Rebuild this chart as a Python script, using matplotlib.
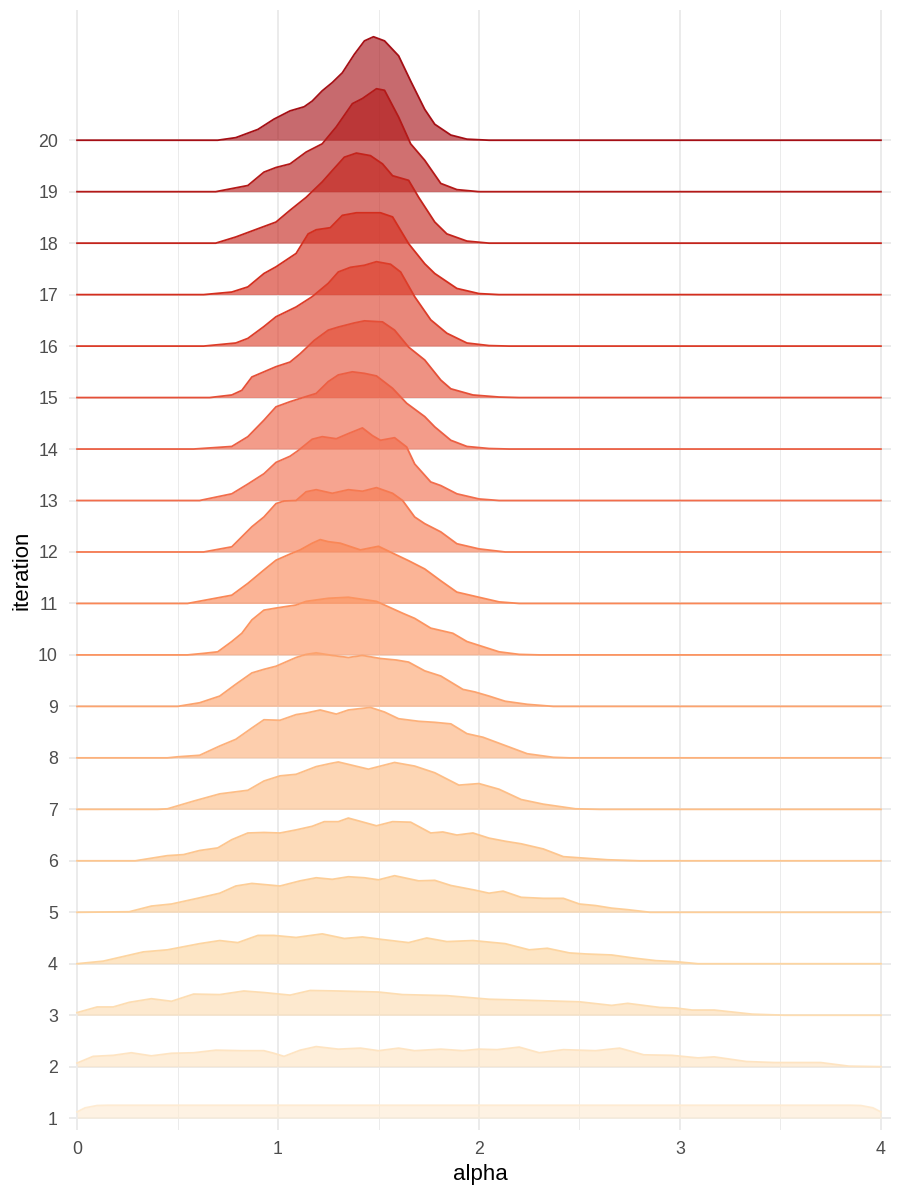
import numpy as np
import matplotlib
matplotlib.use("Agg")
import matplotlib.pyplot as plt
from matplotlib.colors import LinearSegmentedColormap

plt.rcParams["font.family"] = ["Liberation Sans", "DejaVu Sans"]

# ------------------------------------------------------------
# Data : ridge outlines, (alpha, height in row units)
# ------------------------------------------------------------
iterations = list(range(1, 21))

ridge_1 = [(0, 0.12), (0.04, 0.2), (0.1, 0.245), (0.15, 0.25), (3.85, 0.25),
           (3.9, 0.245), (3.96, 0.2), (4.0, 0.12)]
ridge_2 = [(0, 0.07), (0.08, 0.2), (0.18, 0.22), (0.27, 0.27), (0.37, 0.21),
           (0.47, 0.26), (0.58, 0.27), (0.69, 0.32), (0.82, 0.31), (0.93, 0.31),
           (0.98, 0.26), (1.03, 0.2), (1.11, 0.32), (1.19, 0.39), (1.30, 0.34),
           (1.41, 0.36), (1.50, 0.31), (1.60, 0.36), (1.68, 0.31), (1.81, 0.34),
           (1.92, 0.31), (2.0, 0.34), (2.09, 0.33), (2.2, 0.38), (2.30, 0.27),
           (2.42, 0.33), (2.58, 0.31), (2.70, 0.36), (2.82, 0.23), (2.96, 0.22),
           (3.09, 0.17), (3.17, 0.19), (3.33, 0.1), (3.47, 0.08), (3.70, 0.08),
           (3.84, 0.01), (4.0, 0)]
ridge_3 = [(0, 0.05), (0.1, 0.16), (0.18, 0.16), (0.26, 0.25), (0.37, 0.32),
           (0.47, 0.27), (0.58, 0.41), (0.71, 0.40), (0.83, 0.47), (0.93, 0.44),
           (1.06, 0.39), (1.16, 0.48), (1.30, 0.47), (1.50, 0.45), (1.62, 0.4),
           (1.84, 0.38), (2.05, 0.31), (2.24, 0.29), (2.50, 0.26), (2.66, 0.19),
           (2.74, 0.23), (2.9, 0.15), (2.98, 0.14), (3.06, 0.1), (3.17, 0.1),
           (3.36, 0.02), (3.52, 0), (4, 0)]
ridge_4 = [(0, 0), (0.13, 0.05), (0.23, 0.14), (0.33, 0.23), (0.45, 0.27),
           (0.61, 0.39), (0.71, 0.45), (0.80, 0.41), (0.90, 0.55), (0.98, 0.55),
           (1.09, 0.51), (1.22, 0.58), (1.33, 0.49), (1.42, 0.52), (1.52, 0.47),
           (1.65, 0.41), (1.74, 0.5), (1.84, 0.43), (1.97, 0.45), (2.13, 0.39),
           (2.25, 0.27), (2.34, 0.3), (2.45, 0.21), (2.53, 0.19), (2.66, 0.17),
           (2.77, 0.11), (2.88, 0.06), (2.98, 0.04), (3.09, 0), (4, 0)]
ridge_5 = [(0, 0), (0.26, 0.01), (0.37, 0.12), (0.47, 0.16), (0.61, 0.28),
           (0.71, 0.37), (0.79, 0.51), (0.87, 0.56), (1.01, 0.51), (1.11, 0.61),
           (1.19, 0.67), (1.27, 0.64), (1.35, 0.69), (1.43, 0.67), (1.50, 0.63),
           (1.58, 0.71), (1.70, 0.61), (1.78, 0.62), (1.86, 0.52), (1.98, 0.43),
           (2.05, 0.37), (2.12, 0.41), (2.21, 0.29), (2.32, 0.27), (2.42, 0.27),
           (2.50, 0.16), (2.58, 0.13), (2.66, 0.08), (2.74, 0.05), (2.85, 0),
           (4, 0)]
ridge_6 = [(0, 0), (0.29, 0), (0.45, 0.1), (0.53, 0.12), (0.61, 0.2),
           (0.70, 0.25), (0.77, 0.41), (0.85, 0.54), (0.93, 0.55), (1.01, 0.54),
           (1.09, 0.6), (1.17, 0.67), (1.23, 0.76), (1.30, 0.76), (1.35, 0.83),
           (1.49, 0.68), (1.57, 0.76), (1.66, 0.75), (1.76, 0.54), (1.82, 0.56),
           (1.89, 0.5), (1.97, 0.54), (2.05, 0.44), (2.13, 0.38), (2.21, 0.33),
           (2.32, 0.23), (2.42, 0.08), (2.53, 0.05), (2.64, 0.02), (2.8, 0),
           (4, 0)]
ridge_7 = [(0, 0), (0.4, 0), (0.45, 0.01), (0.58, 0.16), (0.71, 0.3),
           (0.85, 0.37), (0.93, 0.55), (1.01, 0.65), (1.09, 0.68), (1.19, 0.83),
           (1.26, 0.89), (1.30, 0.92), (1.45, 0.78), (1.58, 0.91), (1.68, 0.84),
           (1.78, 0.71), (1.90, 0.47), (2.0, 0.5), (2.1, 0.39), (2.21, 0.19),
           (2.32, 0.1), (2.48, 0.01), (2.6, 0), (4, 0)]
ridge_8 = [(0, 0), (0.45, 0), (0.5, 0.02), (0.61, 0.05), (0.71, 0.23),
           (0.79, 0.36), (0.87, 0.58), (0.93, 0.74), (1.01, 0.73), (1.09, 0.84),
           (1.14, 0.87), (1.21, 0.93), (1.29, 0.85), (1.35, 0.93), (1.46, 0.98),
           (1.53, 0.89), (1.60, 0.76), (1.70, 0.71), (1.78, 0.69), (1.86, 0.66),
           (1.94, 0.47), (2.02, 0.4), (2.13, 0.24), (2.24, 0.08), (2.37, 0.01),
           (2.45, 0), (4, 0)]
ridge_9 = [(0, 0), (0.5, 0), (0.61, 0.07), (0.71, 0.2), (0.79, 0.43),
           (0.87, 0.65), (0.93, 0.72), (0.99, 0.78), (1.09, 0.95), (1.14, 1.01),
           (1.19, 1.04), (1.27, 0.99), (1.35, 0.95), (1.42, 0.99), (1.51, 0.93),
           (1.59, 0.9), (1.65, 0.86), (1.73, 0.69), (1.81, 0.59), (1.92, 0.33),
           (1.98, 0.28), (2.05, 0.2), (2.13, 0.1), (2.24, 0.04), (2.37, 0),
           (4, 0)]
ridge_10 = [(0, 0), (0.55, 0), (0.63, 0.03), (0.70, 0.06), (0.77, 0.26),
            (0.82, 0.42), (0.87, 0.68), (0.93, 0.87), (0.99, 0.91), (1.09, 0.97),
            (1.14, 1.04), (1.25, 1.10), (1.35, 1.12), (1.49, 1.04), (1.62, 0.81),
            (1.68, 0.71), (1.76, 0.52), (1.87, 0.42), (1.94, 0.26), (2.02, 0.16),
            (2.1, 0.06), (2.2, 0.01), (2.3, 0), (4, 0)]
ridge_11 = [(0, 0), (0.55, 0), (0.77, 0.16), (0.85, 0.39), (0.93, 0.65),
            (0.99, 0.84), (1.06, 0.96), (1.11, 1.04), (1.17, 1.17), (1.21, 1.24),
            (1.25, 1.20), (1.31, 1.17), (1.41, 1.04), (1.50, 1.11), (1.58, 0.96),
            (1.65, 0.83), (1.73, 0.67), (1.81, 0.44), (1.89, 0.22), (2.0, 0.12),
            (2.1, 0.03), (2.2, 0), (4, 0)]
ridge_12 = [(0, 0), (0.63, 0), (0.77, 0.1), (0.87, 0.49), (0.93, 0.68),
            (0.99, 0.94), (1.03, 0.99), (1.09, 1.0), (1.14, 1.17), (1.19, 1.21),
            (1.27, 1.14), (1.35, 1.21), (1.42, 1.18), (1.49, 1.25), (1.57, 1.14),
            (1.62, 1.0), (1.68, 0.68), (1.73, 0.55), (1.81, 0.39), (1.89, 0.16),
            (2.0, 0.06), (2.13, 0), (4, 0)]
ridge_13 = [(0, 0), (0.61, 0), (0.77, 0.13), (0.85, 0.32), (0.93, 0.52),
            (0.99, 0.74), (1.06, 0.86), (1.10, 0.97), (1.17, 1.19), (1.22, 1.24),
            (1.29, 1.20), (1.35, 1.30), (1.42, 1.41), (1.47, 1.26), (1.51, 1.17),
            (1.58, 1.22), (1.64, 1.04), (1.68, 0.71), (1.76, 0.36), (1.81, 0.29),
            (1.89, 0.13), (2.0, 0.03), (2.1, 0), (4, 0)]
ridge_14 = [(0, 0), (0.58, 0), (0.77, 0.05), (0.85, 0.24), (0.93, 0.56),
            (0.99, 0.82), (1.06, 0.92), (1.14, 1.02), (1.19, 1.08), (1.25, 1.31),
            (1.30, 1.44), (1.37, 1.50), (1.43, 1.47), (1.49, 1.42), (1.57, 1.18),
            (1.64, 0.89), (1.73, 0.63), (1.78, 0.43), (1.86, 0.17), (1.94, 0.05),
            (2.05, 0.01), (2.15, 0), (4, 0)]
ridge_15 = [(0, 0), (0.66, 0), (0.77, 0.05), (0.82, 0.14), (0.87, 0.40),
            (0.93, 0.50), (0.99, 0.60), (1.06, 0.69), (1.11, 0.85), (1.18, 1.11),
            (1.25, 1.31), (1.30, 1.37), (1.38, 1.45), (1.43, 1.49), (1.52, 1.47),
            (1.58, 1.31), (1.65, 0.98), (1.73, 0.73), (1.81, 0.34), (1.86, 0.17),
            (1.97, 0.05), (2.1, 0.01), (2.2, 0), (4, 0)]
ridge_16 = [(0, 0), (0.63, 0), (0.79, 0.06), (0.85, 0.15), (0.93, 0.38),
            (0.99, 0.57), (1.09, 0.76), (1.17, 0.96), (1.25, 1.22), (1.30, 1.44),
            (1.36, 1.53), (1.43, 1.57), (1.49, 1.64), (1.56, 1.59), (1.61, 1.44),
            (1.68, 0.96), (1.76, 0.51), (1.84, 0.25), (1.94, 0.06), (2.05, 0.01),
            (2.15, 0), (4, 0)]
ridge_17 = [(0, 0), (0.63, 0), (0.77, 0.05), (0.85, 0.15), (0.93, 0.41),
            (0.99, 0.54), (1.09, 0.80), (1.15, 1.18), (1.19, 1.26), (1.26, 1.30),
            (1.32, 1.54), (1.39, 1.59), (1.51, 1.59), (1.57, 1.51), (1.65, 0.99),
            (1.73, 0.60), (1.78, 0.41), (1.89, 0.12), (2.0, 0.02), (2.1, 0),
            (4, 0)]
ridge_18 = [(0, 0), (0.69, 0), (0.79, 0.12), (0.90, 0.28), (0.99, 0.41),
            (1.06, 0.64), (1.14, 0.89), (1.22, 1.19), (1.27, 1.41), (1.33, 1.67),
            (1.39, 1.75), (1.46, 1.70), (1.52, 1.54), (1.57, 1.31), (1.65, 1.22),
            (1.70, 0.89), (1.78, 0.41), (1.84, 0.18), (1.94, 0.04), (2.05, 0),
            (4, 0)]
ridge_19 = [(0, 0), (0.69, 0), (0.77, 0.06), (0.85, 0.12), (0.93, 0.38),
            (0.99, 0.47), (1.06, 0.54), (1.14, 0.77), (1.22, 0.93), (1.29, 1.26),
            (1.37, 1.71), (1.42, 1.81), (1.49, 2.0), (1.53, 1.97), (1.60, 1.45),
            (1.66, 0.93), (1.73, 0.61), (1.81, 0.16), (1.89, 0.04), (2.0, 0),
            (4, 0)]
ridge_20 = [(0, 0), (0.70, 0), (0.79, 0.05), (0.90, 0.21), (0.98, 0.41),
            (1.06, 0.57), (1.13, 0.65), (1.17, 0.76), (1.22, 0.96), (1.27, 1.12),
            (1.32, 1.31), (1.38, 1.67), (1.43, 1.93), (1.475, 2.01), (1.53, 1.93),
            (1.60, 1.64), (1.66, 1.15), (1.73, 0.60), (1.78, 0.31), (1.86, 0.10),
            (1.94, 0.02), (2.05, 0), (4, 0)]

ridges = [ridge_1, ridge_2, ridge_3, ridge_4, ridge_5, ridge_6, ridge_7,
          ridge_8, ridge_9, ridge_10, ridge_11, ridge_12, ridge_13, ridge_14,
          ridge_15, ridge_16, ridge_17, ridge_18, ridge_19, ridge_20]

# ------------------------------------------------------------
# Figure
# ------------------------------------------------------------
cmap = LinearSegmentedColormap.from_list(
    "ridges", ["#FEEBD2", "#FDD49E", "#FDBB84", "#FC8D59",
               "#EF6548", "#D7301F", "#A50F15"])

fig = plt.figure(figsize=(9, 12), dpi=100)
ax = fig.add_axes([69 / 900, 70 / 1200, 822 / 900, 1120 / 1200])

# top ridge first, lower ridges drawn over it
for it, pts in zip(iterations[::-1], ridges[::-1]):
    col = cmap((it - 1) / 19)
    x = np.array([p[0] for p in pts])
    top = it + np.array([p[1] for p in pts])
    ax.fill_between(x, it, top, color=col, alpha=0.62, lw=0, zorder=2)
    ax.plot(x, top, color=col, lw=1.3, zorder=2, solid_joinstyle="round")

ax.set_xlim(-0.04, 4.05)
ax.set_ylim(0.77, 22.53)
ax.set_xticks([0, 1, 2, 3, 4])
ax.set_xticks([0.5, 1.5, 2.5, 3.5], minor=True)
ax.set_yticks(iterations)

ax.grid(which="major", color="#EBEBEB", lw=1.4)
ax.grid(which="minor", axis="x", color="#EBEBEB", lw=0.7)
ax.set_axisbelow(True)
for s in ax.spines.values():
    s.set_visible(False)

ax.tick_params(which="both", length=0, pad=8, labelsize=12.8,
               labelcolor="#4D4D4D")
ax.set_xlabel("alpha", fontsize=16, labelpad=4)
ax.set_ylabel("iteration", fontsize=16, labelpad=4)

fig.savefig("out.png", dpi=100, facecolor="white")
